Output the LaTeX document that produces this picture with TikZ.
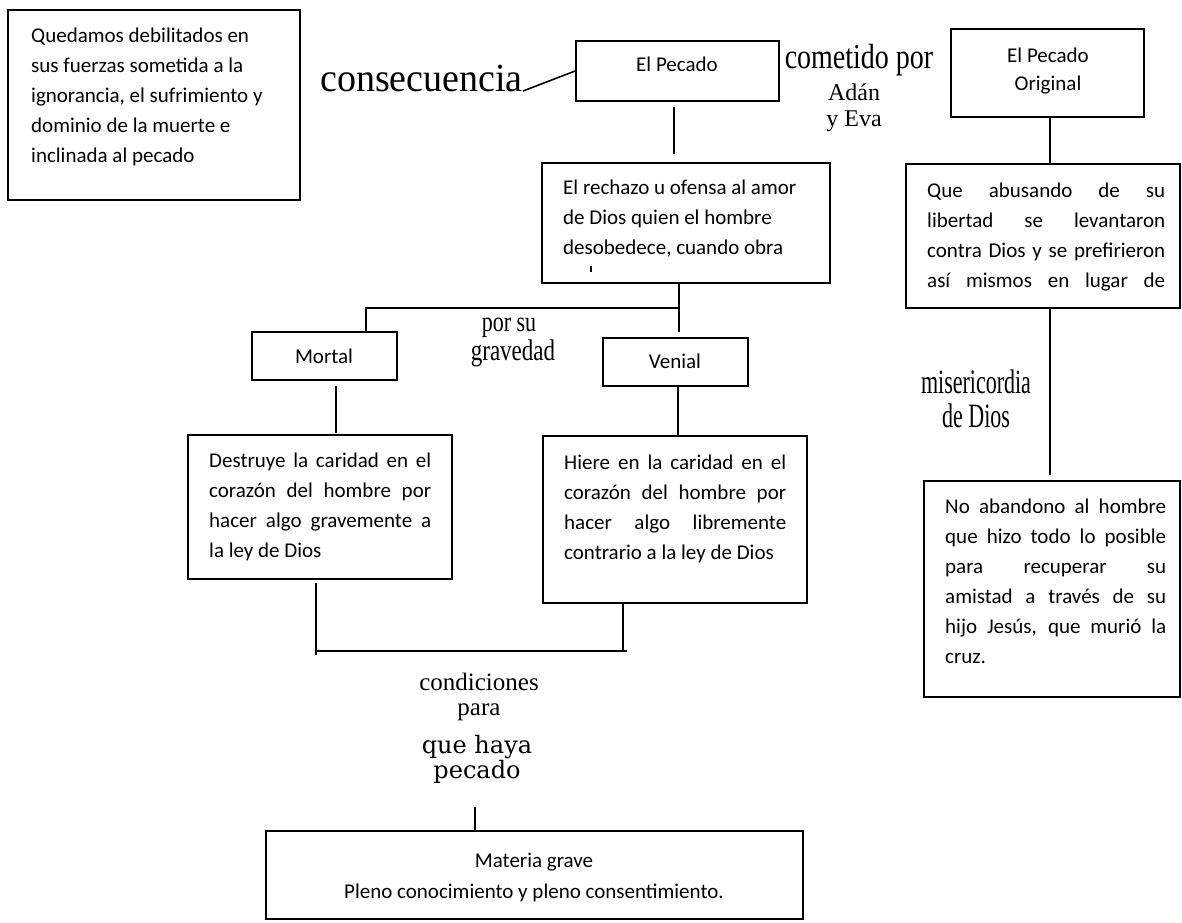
\documentclass[tikz,border=0pt]{standalone}
\usepackage{fontspec}
\setmainfont{Carlito}
\newfontfamily\tnr{Liberation Serif}
\newfontfamily\dvs{DejaVu Serif}
\begin{document}
\begin{tikzpicture}[x=1pt,y=-1pt,
  box/.style={draw, line width=1.8pt, inner sep=0pt},
  conn/.style={line width=1.6pt},
  txt/.style={inner sep=0pt, font=\fontsize{21}{30}\selectfont, anchor=base west},
  ctxt/.style={inner sep=0pt, font=\fontsize{21}{30}\selectfont, anchor=base},
  serif/.style={inner sep=0pt, anchor=base, font=\tnr\fontsize{#1}{#1}\selectfont},
  dserif/.style={inner sep=0pt, anchor=base, font=\dvs\fontsize{#1}{#1}\selectfont},
]
\useasboundingbox (0,0) rectangle (1182,922);

% boxes
\node[box, minimum width=292pt, minimum height=190pt] (boxA) at (154,105) {};
\node[box, minimum width=203pt, minimum height=60pt] (pecado) at (677.5,71) {};
\node[box, minimum width=193pt, minimum height=88pt] (original) at (1047.5,73) {};
\node[box, minimum width=288pt, minimum height=120pt] (rechazo) at (686,223) {};
\node[box, minimum width=274pt, minimum height=144pt] (abusando) at (1043,236) {};
\node[box, minimum width=145pt, minimum height=48pt] (mortal) at (324.5,356) {};
\node[box, minimum width=145pt, minimum height=48pt] (venial) at (675.5,362) {};
\node[box, minimum width=264pt, minimum height=144pt] (destruye) at (320,507) {};
\node[box, minimum width=264pt, minimum height=167pt] (hiere) at (675,519.5) {};
\node[box, minimum width=256pt, minimum height=216pt] (abandono) at (1052,589) {};
\node[box, minimum width=537pt, minimum height=88pt] (materia) at (534.5,875) {};

% texts in boxes
\foreach \t [count=\i] in {{Quedamos debilitados en},{sus fuerzas sometida a la},{ignorancia, el sufrimiento y},{dominio de la muerte e},{inclinada al pecado}}
  \node[txt] (tA\i) at (31,{42+30*(\i-1)}) {\t};

\node[ctxt] (tpecado) at (677,71) {El Pecado};
\node[ctxt] (torig1) at (1048,62) {El Pecado};
\node[ctxt] (torig2) at (1048,90) {Original};

\foreach \t [count=\i] in {{El rechazo u ofensa al amor},{de Dios quien el hombre},{desobedece, cuando obra}}
  \node[txt] (tR\i) at (563,{194+30*(\i-1)}) {\t};
\fill (590.2,266) rectangle (592,271.5);

\foreach \t [count=\i] in {{Que abusando de su},{libertad se levantaron},{contra Dios y se prefirieron},{así mismos en lugar de}}
  \node[txt] (tQ\i) at (927,{197+30*(\i-1)}) {\makebox[238pt][s]{\t}};

\node[ctxt] (tmortal) at (324,363) {Mortal};
\node[ctxt] (tvenial) at (675,368) {Venial};

\foreach \t [count=\i] in {{Destruye la caridad en el},{corazón del hombre por},{hacer algo gravemente a}}
  \node[txt] (tD\i) at (209,{467+30*(\i-1)}) {\makebox[222pt][s]{\t}};
\node[txt] (tD4) at (209,557) {la ley de Dios};

\foreach \t [count=\i] in {{Hiere en la caridad en el},{corazón del hombre por},{hacer algo libremente}}
  \node[txt] (tH\i) at (564,{469+30*(\i-1)}) {\makebox[222pt][s]{\t}};
\node[txt] (tH4) at (564,559) {contrario a la ley de Dios};

\foreach \t [count=\i] in {{No abandono al hombre},{que hizo todo lo posible},{para recuperar su},{amistad a través de su},{hijo Jesús, que murió la}}
  \node[txt] (tN\i) at (945,{513+30*(\i-1)}) {\makebox[221pt][s]{\t}};
\node[txt] (tN6) at (945,663) {cruz.};

\node[ctxt] (tM1) at (534,867) {Materia grave};
\node[ctxt] (tM2) at (534,898) {Pleno conocimiento y pleno consentimiento.};

% serif labels
\node[serif=38, anchor=base east] (cons) at (523,91) {\scalebox{1}[1.05]{consecuencia}};
\node[serif=28] (cometido) at (859,68) {\scalebox{1}[1.25]{cometido por}};
\node[serif=24] (adan) at (854,100) {Adán};
\node[serif=24] (eva) at (854,126) {y Eva};
\node[serif=22] (porsu) at (509,331) {\scalebox{1}[1.3]{por su}};
\node[serif=23] (gravedad) at (513,360) {\scalebox{1}[1.3]{gravedad}};
\node[serif=22] (miseri) at (976,393) {\scalebox{1}[1.55]{misericordia}};
\node[serif=22] (dedios) at (976,427) {\scalebox{1}[1.55]{de Dios}};
\node[serif=25] (condic) at (479,690) {condiciones};
\node[serif=25] (para) at (479,715) {para};
\node[dserif=24] (quehaya) at (477,753) {que haya};
\node[dserif=24] (pecadoB) at (477,778) {pecado};

% connectors
\draw[conn] (cons.base east) -- (pecado.west);
\draw[conn] (674,107) -- (674,154);
\coordinate (j1) at (679,308);
\draw[conn] (rechazo.south -| j1) -- (679,332);
\draw[conn] (j1) -- (366,308) -- (mortal.north -| 366,0);
\draw[conn] (336,386) -- (336,433);
\draw[conn] (678,387) -- (678,435);
\coordinate (j2) at (316,651);
\draw[conn] (316,583) -- (316,655);
\draw[conn] (j2) -- (627,651);
\draw[conn] (hiere.south -| 623,0) -- (623,651);
\draw[conn] (475,807) -- (materia.north -| 475,0);
\draw[conn] (original.south -| 1050,0) -- (abusando.north -| 1050,0);
\draw[conn] (abusando.south -| 1050,0) -- (1050,475);
\end{tikzpicture}
\end{document}
